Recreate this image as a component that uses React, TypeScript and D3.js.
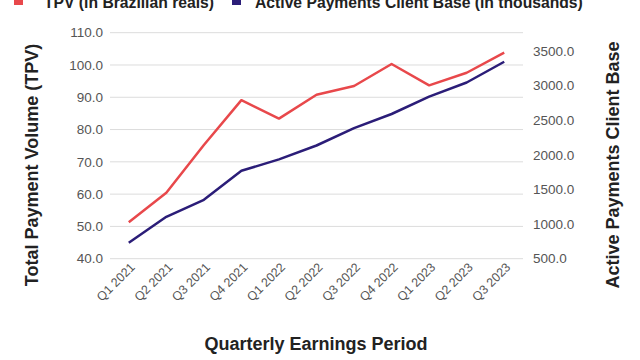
import React from "react";
import * as d3 from "d3";

const categories = ["Q1 2021","Q2 2021","Q3 2021","Q4 2021","Q1 2022","Q2 2022","Q3 2022","Q4 2022","Q1 2023","Q2 2023","Q3 2023"];
const tpv = [51.3, 60.4, 75.2, 89.1, 83.4, 90.8, 93.5, 100.3, 93.7, 97.6, 103.8];
const clients = [730, 1105, 1350, 1770, 1935, 2135, 2385, 2590, 2840, 3045, 3345];
const leftTicks = [40, 50, 60, 70, 80, 90, 100, 110];
const rightTicks = [500, 1000, 1500, 2000, 2500, 3000, 3500];
const seriesNames = ["TPV (in Brazilian reals)", "Active Payments Client Base (in thousands)"];

const RED = "#e8484b";
const BLUE = "#2b1d78";
const FONT = "Liberation Sans, Arial, sans-serif";

export default function App() {
  const W = 640, H = 360;
  const left = 110, right = 523, top = 32.7, bottom = 258.7;
  const x = d3.scalePoint<string>().domain(categories).range([left, right]).padding(0.5);
  const yL = d3.scaleLinear().domain([40, 110]).range([bottom, top]);
  const yR = d3.scaleLinear().domain([500, 3500]).range([bottom, 51]);
  const lineL = d3.line<number>().x((_, i) => x(categories[i])!).y(d => yL(d));
  const lineR = d3.line<number>().x((_, i) => x(categories[i])!).y(d => yR(d));

  return (
    <svg width={W} height={H} style={{ position: "absolute", left: 0, top: 0, background: "#fff" }} fontFamily={FONT}>
      <rect width={W} height={H} fill="#fff" />
      {/* legend */}
      <rect x={14} y={-4} width={9} height={9} fill={RED} />
      <text x={44} y={8} fontSize={15.7} fontWeight="bold" fill="#222">{seriesNames[0]}</text>
      <rect x={232} y={-4} width={9} height={9} fill={BLUE} />
      <text x={255} y={8} fontSize={15.7} fontWeight="bold" fill="#222">{seriesNames[1]}</text>

      {/* grid */}
      {leftTicks.map(t => (
        <line key={t} x1={left} x2={right} y1={yL(t)} y2={yL(t)} stroke="#dcdcdc" strokeWidth={1} />
      ))}
      {leftTicks.map(t => (
        <text key={"l" + t} x={103} y={yL(t)} dy="0.35em" textAnchor="end" fontSize={13.5} fill="#555">{t.toFixed(1)}</text>
      ))}
      {rightTicks.map(t => (
        <text key={"r" + t} x={533} y={yR(t)} dy="0.35em" textAnchor="start" fontSize={13.5} fill="#555">{t.toFixed(1)}</text>
      ))}
      {categories.map(c => (
        <text key={c} transform={`translate(${x(c)! + 7},${268}) rotate(-45)`} textAnchor="end" fontSize={12.5} fill="#555">{c}</text>
      ))}

      <path d={lineL(tpv)!} fill="none" stroke={RED} strokeWidth={2.5} strokeLinejoin="round" />
      <path d={lineR(clients)!} fill="none" stroke={BLUE} strokeWidth={2.5} strokeLinejoin="round" />

      <text transform={`translate(38,165) rotate(-90)`} textAnchor="middle" fontSize={18} fontWeight="bold" fill="#222">Total Payment Volume (TPV)</text>
      <text transform={`translate(619,165) rotate(-90)`} textAnchor="middle" fontSize={18} fontWeight="bold" fill="#222">Active Payments Client Base</text>
      <text x={316} y={350} textAnchor="middle" fontSize={18} fontWeight="bold" fill="#222">Quarterly Earnings Period</text>
    </svg>
  );
}
